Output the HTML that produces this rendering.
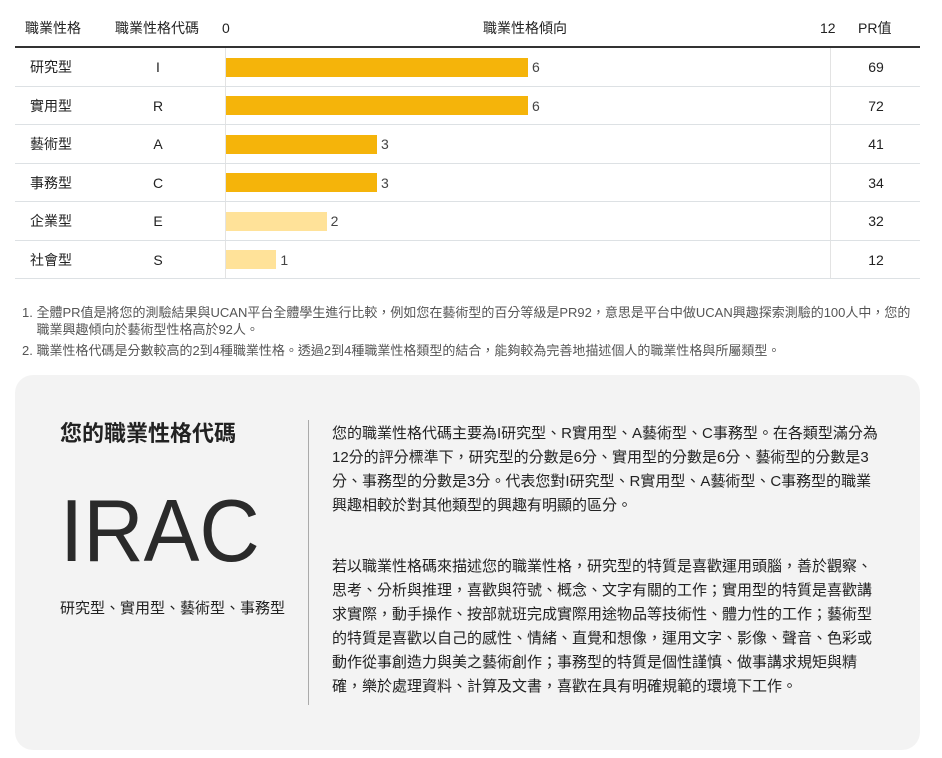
<!DOCTYPE html>
<html><head><meta charset="utf-8">
<style>
body{margin:0;width:942px;height:758px;background:#fff;font-family:"Liberation Sans","Noto Sans CJK TC",sans-serif;color:#222;position:relative;overflow:hidden}
.abs{position:absolute}
.hdr{top:18px;font-size:14px;line-height:20px;color:#222}
.cell{font-size:14px;line-height:20px;color:#222}
.note{left:22px;font-size:13px;color:#555;line-height:17px}
.card{left:15px;top:375px;width:905px;height:375px;background:#f3f3f3;border-radius:18px}
.para{left:332px;width:548px;font-size:15px;line-height:24px;color:#222}
</style></head><body>
<div class="abs hdr" style="left:25px">職業性格</div>
<div class="abs hdr" style="left:115px">職業性格代碼</div>
<div class="abs hdr" style="left:222px">0</div>
<div class="abs hdr" style="left:483px">職業性格傾向</div>
<div class="abs hdr" style="left:820px">12</div>
<div class="abs hdr" style="left:858px">PR值</div>
<div class="abs" style="left:15px;top:46px;width:905px;height:2px;background:#333"></div>
<div class="abs" style="left:225px;top:48px;width:1px;height:230px;background:#e3e3e3"></div>
<div class="abs" style="left:830px;top:48px;width:1px;height:230px;background:#e3e3e3"></div>
<div id="rows"></div>
<div class="abs note" style="top:304px;width:905px">1. 全體PR值是將您的測驗結果與UCAN平台全體學生進行比較，例如您在藝術型的百分等級是PR92，意思是平台中做UCAN興趣探索測驗的100人中，您的<br>&nbsp;&nbsp;&nbsp;&nbsp;職業興趣傾向於藝術型性格高於92人。</div>
<div class="abs note" style="top:342px;width:905px">2. 職業性格代碼是分數較高的2到4種職業性格。透過2到4種職業性格類型的結合，能夠較為完善地描述個人的職業性格與所屬類型。</div>
<div class="abs card"></div>
<div class="abs" style="left:60px;top:420px;font-size:22px;line-height:28px;font-weight:bold">您的職業性格代碼</div>
<div class="abs" style="left:60px;top:480px;font-size:88px;color:#2a2a2a;transform:scaleX(0.95);transform-origin:left">IRAC</div>
<div class="abs" style="left:60px;top:599px;font-size:15px;line-height:20px">研究型、實用型、藝術型、事務型</div>
<div class="abs" style="left:308px;top:420px;width:1px;height:285px;background:#aaa"></div>
<div class="abs para" style="top:422px">您的職業性格代碼主要為I研究型、R實用型、A藝術型、C事務型。在各類型滿分為12分的評分標準下，研究型的分數是6分、實用型的分數是6分、藝術型的分數是3分、事務型的分數是3分。代表您對I研究型、R實用型、A藝術型、C事務型的職業興趣相較於對其他類型的興趣有明顯的區分。</div>
<div class="abs para" style="top:555px">若以職業性格碼來描述您的職業性格，研究型的特質是喜歡運用頭腦，善於觀察、思考、分析與推理，喜歡與符號、概念、文字有關的工作；實用型的特質是喜歡講求實際，動手操作、按部就班完成實際用途物品等技術性、體力性的工作；藝術型的特質是喜歡以自己的感性、情緒、直覺和想像，運用文字、影像、聲音、色彩或動作從事創造力與美之藝術創作；事務型的特質是個性謹慎、做事講求規矩與精確，樂於處理資料、計算及文書，喜歡在具有明確規範的環境下工作。</div>
<script>
const categories=["研究型","實用型","藝術型","事務型","企業型","社會型"];
const codes=["I","R","A","C","E","S"];
const scores=[6,6,3,3,2,1];
const prValues=[69,72,41,34,32,12];
const highlighted=[true,true,true,true,false,false];
const maxScore=12;
const x0=226,x1=830,rowTop=48,rowH=38.5;
function xs(v){return x0+(x1-x0)*v/maxScore;}
const root=document.getElementById('rows');
categories.forEach((c,i)=>{
  const y=rowTop+i*rowH;
  const mk=(html,style)=>{const d=document.createElement('div');d.className='abs cell';d.style.cssText=style;d.textContent=html;root.appendChild(d);return d;};
  let a=mk(c,`left:30px;top:${y+9}px`);
  
  
  let b=mk(codes[i],`left:118px;width:80px;text-align:center;top:${y+9}px`);
  
  
  let bar=document.createElement('div');bar.className='abs';
  bar.style.cssText=`left:${x0}px;top:${y+9.5}px;width:${xs(scores[i])-x0}px;height:19px;background:${highlighted[i]?'#f5b40a':'#ffe299'}`;
  
  
  root.appendChild(bar);
  let v=mk(String(scores[i]),`left:${xs(scores[i])+4}px;top:${y+9}px;color:#444`);
  
  
  let p=mk(String(prValues[i]),`left:836px;width:80px;text-align:center;top:${y+9}px`);
  
  
  let l=document.createElement('div');l.className='abs';
  l.style.cssText=`left:15px;top:${y+rowH-1}px;width:905px;height:1px;background:#dde1e4`;
  
  
  root.appendChild(l);
});
</script>
</body></html>
